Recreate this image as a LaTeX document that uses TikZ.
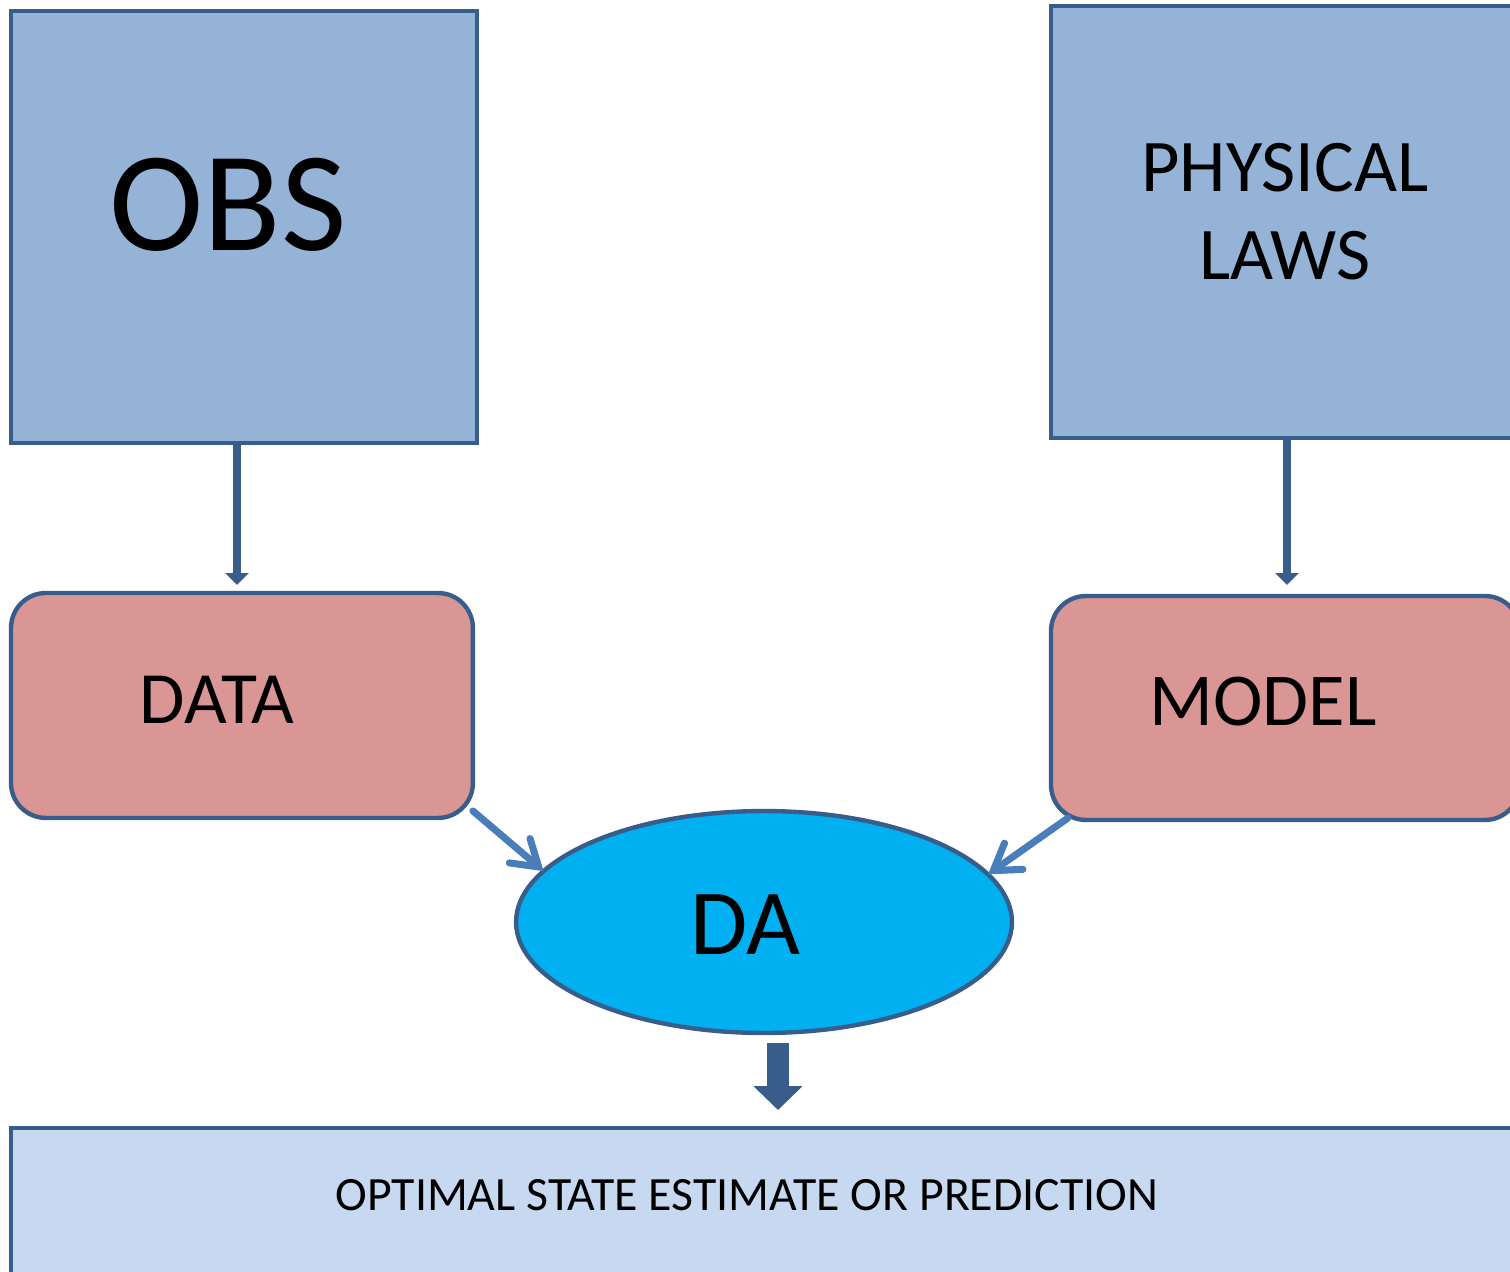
\documentclass[tikz,border=0pt]{standalone}
\usepackage{fontspec}
\setmainfont{Carlito}
\usetikzlibrary{arrows.meta,shapes.geometric,calc}
\definecolor{boxblue}{HTML}{95B3D7}
\definecolor{edgeblue}{HTML}{385D8A}
\definecolor{boxpink}{HTML}{D99694}
\definecolor{dacyan}{HTML}{00B0F0}
\definecolor{resultblue}{HTML}{C6D9F1}
\definecolor{linkblue}{HTML}{4A7EBB}

\begin{document}
\begin{tikzpicture}[x=0.02cm,y=-0.02cm,
  source/.style={draw=edgeblue,fill=boxblue,line width=2.5pt,anchor=north west,inner sep=0pt,outer sep=0pt},
  stage/.style={source,fill=boxpink,rounded corners=0.7cm},
  feed/.style={edgeblue,line width=5pt,-{Triangle[length=0.24cm,width=0.46cm]}},
  link/.style={linkblue,line width=4pt,line cap=round,-{Straight Barb[length=0.5cm,width=0.64cm,line cap=round]}},
  bigarrow/.style={edgeblue,line width=0.44cm,-{Triangle[length=0.48cm,width=0.96cm]}}]
  \useasboundingbox (0,0) rectangle (1510,1271);
  \clip (0,0) rectangle (1510,1271);
  % boxes
  \node[source,minimum width=9.32cm,minimum height=8.64cm] (obs) at (11,11) {};
  \node[source,minimum width=9.38cm,minimum height=8.64cm] (physical) at (1051,6) {};
  \node[stage,minimum width=9.24cm,minimum height=4.5cm] (data) at (11,593) {};
  \node[stage,minimum width=9.38cm,minimum height=4.48cm] (model) at (1051,596) {};
  \node[ellipse,draw=edgeblue,fill=dacyan,line width=2.5pt,inner sep=0pt,outer sep=0pt,
    minimum width=9.92cm,minimum height=4.44cm] (da) at (764,922) {};
  \node[source,fill=resultblue,minimum width=30.18cm,minimum height=3.24cm] (result) at (11,1128) {};
  % texts
  \node[font=\fontsize{81}{97}\selectfont] (obstext) at (228,205) {OBS};
  \node[align=center,font=\fontsize{42.3}{50}\selectfont] (physicaltext) at (1285,212) {PHYSICAL\\LAWS};
  \node[font=\fontsize{42}{50}\selectfont] (datatext) at (217,700) {DATA};
  \node[font=\fontsize{42.5}{50}\selectfont] (modeltext) at (1263,702) {MODEL};
  \node[font=\fontsize{53}{64}\selectfont] (datext) at (745,925) {DA};
  \node[font=\fontsize{27.2}{33}\selectfont] (resulttext) at (747,1195) {OPTIMAL STATE ESTIMATE OR PREDICTION};
  % arrows
  \draw[feed,shorten >=0.16cm] (obs.south -| 237,0) -- (data.north -| 237,0);
  \draw[feed,shorten >=0.22cm] (physical.south -| 1287,0) -- (model.north -| 1287,0);
  \draw[link] ($(data.south east)+(0,-7)$) -- (da.167.5);
  \draw[link] ($(model.south west)+(17,-2)$) -- (da.12.2);
  \draw[bigarrow] ($(da.south)+(14,10)$) -- ($(da.south |- result.north)+(14,-18)$);
\end{tikzpicture}
\end{document}
